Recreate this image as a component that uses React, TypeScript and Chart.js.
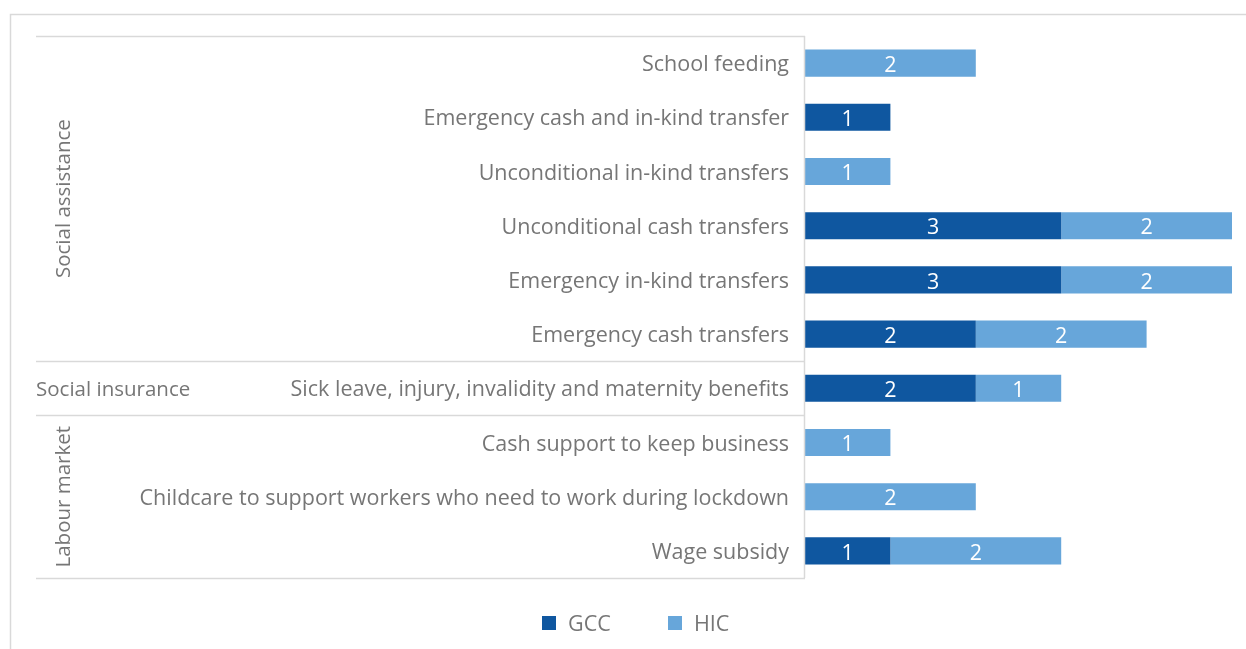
import React, { useEffect, useRef } from "react";
import { Chart, registerables } from "chart.js";

Chart.register(...registerables);

const categories = [
  "School feeding",
  "Emergency cash and in-kind transfer",
  "Unconditional in-kind transfers",
  "Unconditional cash transfers",
  "Emergency in-kind transfers",
  "Emergency cash transfers",
  "Sick leave, injury, invalidity and maternity benefits",
  "Cash support to keep business",
  "Childcare to support workers who need to work during lockdown",
  "Wage subsidy",
];
const gccValues = [0, 1, 0, 3, 3, 2, 2, 0, 0, 1];
const hicValues = [2, 0, 1, 2, 2, 2, 1, 1, 2, 2];
const seriesNames = ["GCC", "HIC"];
const seriesColors = ["#0F57A0", "#67A6DA"];
const groupLabels = ["Social assistance", "Social insurance", "Labour market"];
const groupStart = [0, 6, 7];
const groupEnd = [5, 6, 9];
const groupVertical = [true, false, true];

const FONT = "'Open Sans', sans-serif";
const GRAY = "#767676";
const LINE = "#d9d9d9";
const FS = 21.5;
const GFS = 20.5;

const decorPlugin = {
  id: "decor",
  beforeDraw(chart: any) {
    const ctx = chart.ctx;
    ctx.save();
    ctx.strokeStyle = LINE;
    ctx.lineWidth = 1.5;
    ctx.beginPath();
    ctx.moveTo(10.5, chart.height);
    ctx.lineTo(10.5, 14.5);
    ctx.lineTo(chart.width, 14.5);
    ctx.stroke();
    ctx.restore();
  },
  afterDraw(chart: any) {
    const ctx = chart.ctx;
    const y = chart.scales.y;
    const area = chart.chartArea;
    const half = Math.abs(y.getPixelForValue(1) - y.getPixelForValue(0)) / 2;
    ctx.save();
    ctx.strokeStyle = LINE;
    ctx.lineWidth = 1.5;
    const ys: number[] = [];
    groupStart.forEach((s, i) => {
      ys.push(y.getPixelForValue(s) - half);
      if (i === groupStart.length - 1) ys.push(y.getPixelForValue(groupEnd[i]) + half);
    });
    ctx.beginPath();
    ys.forEach((yy) => {
      ctx.moveTo(36, Math.round(yy) + 0.5);
      ctx.lineTo(area.left, Math.round(yy) + 0.5);
    });
    ctx.moveTo(area.left - 0.5, ys[0]);
    ctx.lineTo(area.left - 0.5, ys[ys.length - 1]);
    ctx.stroke();

    ctx.fillStyle = GRAY;
    ctx.font = `${GFS}px ${FONT}`;
    groupLabels.forEach((lab, i) => {
      const top = y.getPixelForValue(groupStart[i]) - half;
      const bot = y.getPixelForValue(groupEnd[i]) + half;
      const cy = (top + bot) / 2;
      if (groupVertical[i]) {
        ctx.save();
        ctx.translate(64, cy);
        ctx.rotate(-Math.PI / 2);
        ctx.textAlign = "center";
        ctx.textBaseline = "middle";
        ctx.fillText(lab, 0, 0);
        ctx.restore();
      } else {
        ctx.textAlign = "left";
        ctx.textBaseline = "middle";
        ctx.fillText(lab, 36, cy + 2);
      }
    });

    ctx.font = `${FS}px ${FONT}`;
    ctx.fillStyle = "#ffffff";
    ctx.textAlign = "center";
    ctx.textBaseline = "middle";
    chart.data.datasets.forEach((ds: any, di: number) => {
      const meta = chart.getDatasetMeta(di);
      meta.data.forEach((bar: any, i: number) => {
        const v = ds.data[i];
        if (!v) return;
        const p = bar.getProps(["x", "y", "base"], true);
        ctx.fillText(String(v), (p.x + p.base) / 2, p.y + 2.5);
      });
    });

    const ly = 623;
    const items = [
      { x: 542, label: seriesNames[0], color: seriesColors[0] },
      { x: 668, label: seriesNames[1], color: seriesColors[1] },
    ];
    items.forEach((it) => {
      ctx.fillStyle = it.color;
      ctx.fillRect(it.x, ly - 7, 14, 14);
      ctx.fillStyle = GRAY;
      ctx.textAlign = "left";
      ctx.textBaseline = "middle";
      ctx.fillText(it.label, it.x + 26, ly + 2);
    });
    ctx.restore();
  },
};

export default function App() {
  const ref = useRef<HTMLCanvasElement>(null);
  useEffect(() => {
    if (!ref.current) return;
    const chart = new Chart(ref.current, {
      type: "bar",
      data: {
        labels: categories,
        datasets: [
          { label: seriesNames[0], data: gccValues, backgroundColor: seriesColors[0], borderWidth: 0 },
          { label: seriesNames[1], data: hicValues, backgroundColor: seriesColors[1], borderWidth: 0 },
        ],
      },
      options: {
        indexAxis: "y",
        animation: false,
        responsive: false,
        maintainAspectRatio: false,
        datasets: { bar: { categoryPercentage: 1, barPercentage: 0.5 } },
        layout: { padding: { top: 36, right: 14, bottom: 71, left: 0 } },
        plugins: { legend: { display: false }, tooltip: { enabled: false } },
        scales: {
          x: { stacked: true, display: false, min: 0, max: 5 },
          y: {
            stacked: true,
            grid: { display: false, drawTicks: false },
            border: { display: false },
            ticks: {
              color: GRAY,
              font: { family: FONT, size: FS },
              padding: 16,
              labelOffset: 2,
              autoSkip: false,
            },
            afterFit: (scale: any) => {
              scale.width = 805;
            },
          },
        },
      },
      plugins: [decorPlugin],
    });
    return () => chart.destroy();
  }, []);
  return (
    <div style={{ position: "absolute", left: 0, top: 0, width: 1246, height: 649, background: "#fff" }}>
      <canvas ref={ref} width={1246} height={649} />
    </div>
  );
}
